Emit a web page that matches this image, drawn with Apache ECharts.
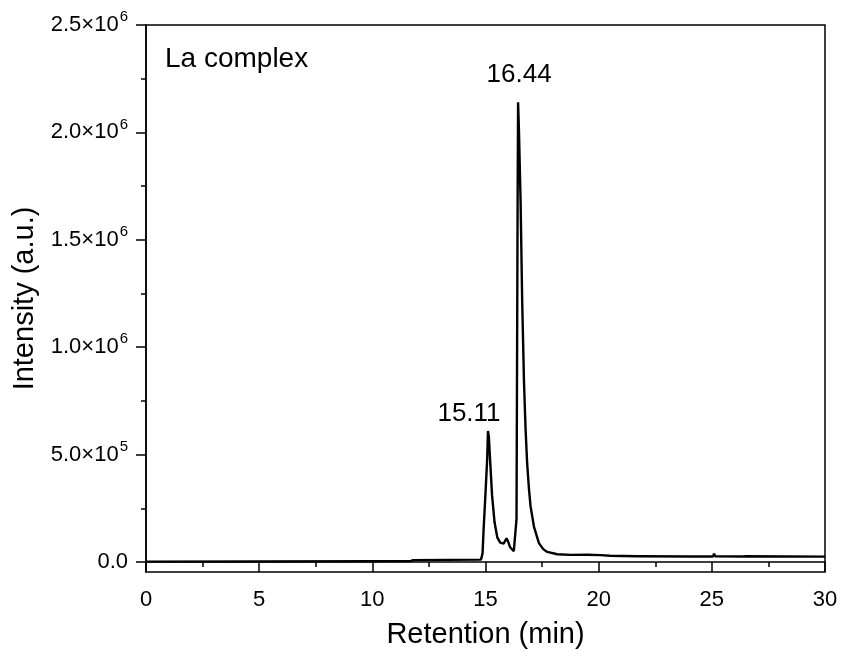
<!DOCTYPE html>
<html>
<head>
<meta charset="utf-8">
<script src="https://cdn.jsdelivr.net/npm/echarts@6/dist/echarts.min.js"></script>
<style>
  html, body { margin: 0; padding: 0; background: #fff; }
  #chart { width: 842px; height: 658px; }
</style>
</head>
<body>
<div id="chart"></div>
<script>
// retention time (min) and detector intensity
const retention = [
  0, 5, 10, 11.7, 11.8, 13.3, 14.8, 14.87, 14.92, 15.0, 15.07, 15.11, 15.15, 15.19,
  15.29, 15.4, 15.52, 15.65, 15.8, 15.93, 16.0, 16.08, 16.25, 16.33, 16.37, 16.39,
  16.42, 16.44, 16.48, 16.55, 16.62, 16.7, 16.77, 16.84, 16.92, 16.99, 17.14, 17.36,
  17.55, 17.73, 18.17, 18.76, 19.5, 20.1, 20.5, 21.7, 21.75, 21.8, 24, 25.05, 25.1,
  25.15, 26.4, 26.45, 26.5, 28.25, 28.3, 28.35, 30
]
const intensity = [
  2000, 2500, 3500, 4000, 9000, 10000, 11000, 40000, 160000, 320000, 470000, 610000, 580000, 500000,
  310000, 185000, 115000, 90000, 86000, 110000, 95000, 70000, 50000, 52000, 200000, 800000,
  1700000, 2140000, 2000000, 1680000, 1220000, 840000, 620000, 460000, 340000, 260000, 165000, 88000,
  60000, 47000, 36000, 33000, 34000, 32000, 29000, 27000, 30000, 27000, 26000, 26000, 39000,
  27000, 26000, 31000, 26500, 26000, 31000, 26000, 25000
]

// peak annotations
const peakTimes = [15.11, 16.44]
const peakHeights = [610000, 2140000]

const yMajor = [0, 500000, 1000000, 1500000, 2000000, 2500000]
const yMinor = [250000, 750000, 1250000, 1750000, 2250000]

const FONT = "'Liberation Sans', Arial, sans-serif"

function sciLabel(v) {
  if (v === 0) return '{b|0.0}'
  const e = Math.floor(Math.log10(v) + 1e-9)
  const m = v / Math.pow(10, e)
  return '{b|' + m.toFixed(1) + '×10}{s|' + e + '}'
}

const chart = echarts.init(document.getElementById('chart'))

chart.setOption({
  animation: false,
  backgroundColor: '#fff',
  textStyle: { fontFamily: FONT, color: '#000' },
  title: {
    text: 'La complex',
    left: 160, top: 40,
    textStyle: { fontFamily: FONT, fontSize: 28, fontWeight: 'normal', color: '#000' },
  },
  grid: {
    left: 146, right: 17, top: 25, bottom: 86,
    show: true, borderColor: '#000', borderWidth: 1.5,
  },
  xAxis: {
    type: 'value', min: 0, max: 30, interval: 5,
    name: 'Retention (min)', nameLocation: 'middle', nameGap: 48,
    nameTextStyle: { fontFamily: FONT, fontSize: 29, color: '#000' },
    axisLine: { show: true, lineStyle: { color: '#000', width: 1.5 } },
    axisTick: { show: true, inside: false, length: 10, lineStyle: { color: '#000', width: 1.5 } },
    minorTick: { show: true, splitNumber: 2, length: 5, lineStyle: { color: '#000', width: 1.5 } },
    axisLabel: { fontFamily: FONT, fontSize: 22, color: '#000', margin: 17 },
    splitLine: { show: false },
  },
  yAxis: [
    {
      type: 'value', min: -46500, max: 2500000,
      name: 'Intensity (a.u.)', nameLocation: 'middle', nameGap: 104,
      nameTextStyle: { fontFamily: FONT, fontSize: 29, color: '#000' },
      axisLine: { show: true, lineStyle: { color: '#000', width: 1.5 } },
      axisTick: { show: true, length: 10, customValues: yMajor, lineStyle: { color: '#000', width: 1.5 } },
      axisLabel: {
        customValues: yMajor, margin: 18,
        formatter: sciLabel,
        rich: {
          b: { fontFamily: FONT, fontSize: 22, color: '#000' },
          s: { fontFamily: FONT, fontSize: 15, color: '#000', padding: [0, 0, 16, 1] },
        },
      },
      splitLine: { show: false },
    },
    {
      type: 'value', min: -46500, max: 2500000, position: 'left',
      axisLine: { show: false },
      axisTick: { show: true, length: 5, customValues: yMinor, lineStyle: { color: '#000', width: 1.5 } },
      axisLabel: { show: false },
      splitLine: { show: false },
    },
  ],
  series: [
    {
      name: 'La complex',
      type: 'line',
      data: retention.map((t, i) => [t, intensity[i]]),
      showSymbol: false,
      lineStyle: { color: '#000', width: 2.4 },
      z: 3,
    },
    {
      name: 'peaks',
      type: 'scatter',
      symbolSize: 0,
      itemStyle: { opacity: 1 },
      data: peakTimes.map((t, i) => ({
        value: [t, peakHeights[i]],
        label: { offset: i === 0 ? [-19, -17] : [1, -28] },
      })),
      label: {
        show: true, position: 'inside',
        formatter: p => p.value[0].toFixed(2),
        fontFamily: FONT, fontSize: 26, color: '#000',
      },
      z: 4,
    },
  ],
})
</script>
</body>
</html>
